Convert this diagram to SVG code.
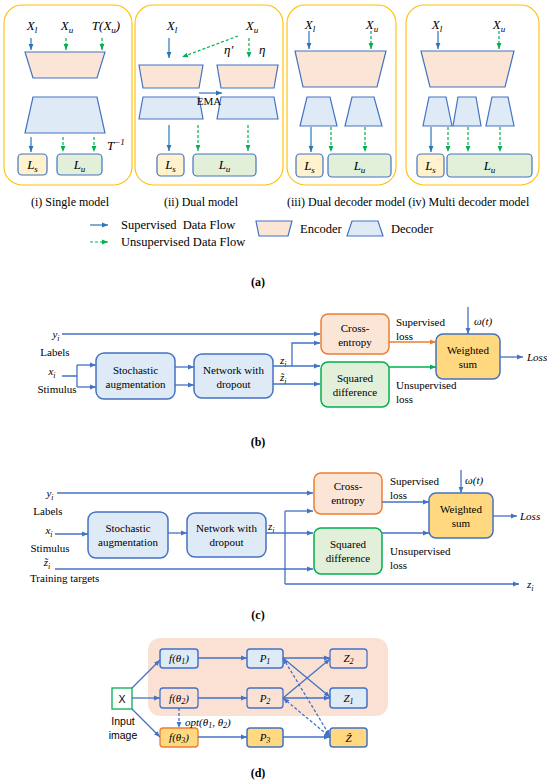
<svg xmlns="http://www.w3.org/2000/svg" width="550" height="784" viewBox="0 0 550 784" font-family="Liberation Serif, serif">
<style>
svg{font-family:"Liberation Serif",serif}
.t{font-family:"Liberation Serif",serif;font-size:11px;fill:#000}
.s{font-family:"Liberation Sans",sans-serif;font-size:10.5px;fill:#000}
.m{font-style:italic}
.mx{font-family:"Liberation Serif",serif;font-style:italic;font-size:13px;fill:#000}
.cap{font-family:"Liberation Serif",serif;font-size:12px;fill:#000}
.lg{font-family:"Liberation Serif",serif;font-size:12.5px;fill:#000}
.b{font-weight:bold}
.panel{fill:none;stroke:#FFC000;stroke-width:1.1}
.enc{fill:#FBE5D6;stroke:#4472C4;stroke-width:1.2}
.dec{fill:#DEEBF7;stroke:#4472C4;stroke-width:1.2}
.ls{fill:#FFF2CC;stroke:#4472C4;stroke-width:1.2}
.lu{fill:#E2F0D9;stroke:#4472C4;stroke-width:1.2}
.sup{stroke:#2E75B6;stroke-width:1.2;fill:none;marker-end:url(#ab)}
.uns{stroke:#00B050;stroke-width:1.2;fill:none;stroke-dasharray:3 2;marker-end:url(#ag)}
.bl{stroke:#4472C4;stroke-width:1.3;fill:none}
.ba{stroke:#4472C4;stroke-width:1.3;fill:none;marker-end:url(#ac)}
.bx{fill:#DEEBF7;stroke:#4472C4;stroke-width:1.5}
.ce{fill:#FBE5D6;stroke:#ED7D31;stroke-width:1.5}
.sd{fill:#E2F0D9;stroke:#00B050;stroke-width:1.5}
.ws{fill:#FFD880;stroke:#4472C4;stroke-width:1.5}
.nb{fill:none;stroke:#4472C4;stroke-width:1.3}
</style>
<defs>
<marker id="ab" viewBox="0 0 10 10" refX="10" refY="5" markerWidth="6" markerHeight="6" markerUnits="userSpaceOnUse" orient="auto"><path d="M0,1 L10,5 L0,9 z" fill="#2E75B6"/></marker>
<marker id="ag" viewBox="0 0 10 10" refX="10" refY="5" markerWidth="6" markerHeight="6" markerUnits="userSpaceOnUse" orient="auto"><path d="M0,1 L10,5 L0,9 z" fill="#00B050"/></marker>
<marker id="ao" viewBox="0 0 10 10" refX="10" refY="5" markerWidth="6" markerHeight="6" markerUnits="userSpaceOnUse" orient="auto"><path d="M0,1 L10,5 L0,9 z" fill="#ED7D31"/></marker>
<marker id="ac" viewBox="0 0 10 10" refX="10" refY="5" markerWidth="6" markerHeight="6" markerUnits="userSpaceOnUse" orient="auto-start-reverse"><path d="M0,1 L10,5 L0,9 z" fill="#4472C4"/></marker>
</defs>

<!-- ===== Panel (a) ===== -->
<g id="panel-i">
<rect class="panel" x="4" y="5" width="128" height="180" rx="18"/>
<text class="mx" x="32" y="30" text-anchor="middle">X<tspan font-size="9" dy="3">l</tspan></text>
<text class="mx" x="67" y="30" text-anchor="middle">X<tspan font-size="9" dy="3">u</tspan></text>
<text class="mx" x="106" y="30" text-anchor="middle">T(X<tspan font-size="9" dy="3">u</tspan><tspan dy="-3">)</tspan></text>
<polygon class="enc" points="25,52 105,52 97,78 33,78"/>
<polygon class="dec" points="33,97 97,97 105,133 25,133"/>
<text class="mx" x="107" y="150">T<tspan font-size="9" dy="-5">−1</tspan></text>
<rect class="ls" x="18" y="154" width="29" height="21" rx="4"/>
<text class="mx" x="32.5" y="169" text-anchor="middle">L<tspan font-size="9" dy="3">s</tspan></text>
<rect class="lu" x="57" y="154" width="45" height="21" rx="4"/>
<text class="mx" x="79.5" y="169" text-anchor="middle">L<tspan font-size="9" dy="3">u</tspan></text>
</g>

<g id="panel-ii">
<rect class="panel" x="135" y="5" width="148" height="180" rx="18"/>
<text class="mx" x="172" y="30" text-anchor="middle">X<tspan font-size="9" dy="3">l</tspan></text>
<text class="mx" x="252" y="30" text-anchor="middle">X<tspan font-size="9" dy="3">u</tspan></text>
<text class="mx" x="224" y="54">η′</text>
<text class="mx" x="259" y="54">η</text>
<polygon class="enc" points="139,65 203,65 199,88 143,88"/>
<polygon class="enc" points="217,65 278,65 274,88 221,88"/>
<polygon class="dec" points="143,97 199,97 203,119 139,119"/>
<polygon class="dec" points="221,97 274,97 278,119 217,119"/>
<text class="t" x="209" y="105" font-size="10" text-anchor="middle">EMA</text>
<rect class="ls" x="157" y="154" width="27" height="22" rx="4"/>
<text class="mx" x="170.5" y="169" text-anchor="middle">L<tspan font-size="9" dy="3">s</tspan></text>
<rect class="lu" x="193" y="154" width="63" height="22" rx="4"/>
<text class="mx" x="224.5" y="169" text-anchor="middle">L<tspan font-size="9" dy="3">u</tspan></text>
</g>

<g id="panel-iii">
<rect class="panel" x="287" y="5" width="109" height="180" rx="18"/>
<text class="mx" x="310" y="29" text-anchor="middle">X<tspan font-size="9" dy="3">l</tspan></text>
<text class="mx" x="372" y="29" text-anchor="middle">X<tspan font-size="9" dy="3">u</tspan></text>
<polygon class="enc" points="295,51 386,51 377,87 303,87"/>
<polygon class="dec" points="307,97 330,97 337,126 300,126"/>
<polygon class="dec" points="352,97 374,97 382,126 345,126"/>
<rect class="ls" x="296" y="154" width="27" height="23" rx="4"/>
<text class="mx" x="309.5" y="170" text-anchor="middle">L<tspan font-size="9" dy="3">s</tspan></text>
<rect class="lu" x="328" y="154" width="63" height="23" rx="4"/>
<text class="mx" x="359.5" y="170" text-anchor="middle">L<tspan font-size="9" dy="3">u</tspan></text>
</g>

<g id="panel-iv">
<rect class="panel" x="406" y="5" width="133" height="180" rx="18"/>
<text class="mx" x="437" y="29" text-anchor="middle">X<tspan font-size="9" dy="3">l</tspan></text>
<text class="mx" x="499" y="29" text-anchor="middle">X<tspan font-size="9" dy="3">u</tspan></text>
<polygon class="enc" points="421,51 514,51 505,87 430,87"/>
<polygon class="dec" points="429,97 446,97 452,126 423,126"/>
<polygon class="dec" points="458,97 476,97 481,126 453,126"/>
<polygon class="dec" points="492,97 508,97 514,126 486,126"/>
<rect class="ls" x="417" y="154" width="27" height="23" rx="4"/>
<text class="mx" x="430.5" y="170" text-anchor="middle">L<tspan font-size="9" dy="3">s</tspan></text>
<rect class="lu" x="447" y="154" width="85" height="23" rx="4"/>
<text class="mx" x="489.5" y="170" text-anchor="middle">L<tspan font-size="9" dy="3">u</tspan></text>
</g>

<g id="a-connectors">
<line class="sup" x1="31" y1="38" x2="31" y2="50"/>
<line class="uns" x1="66" y1="38" x2="66" y2="50"/>
<line class="uns" x1="102" y1="38" x2="102" y2="50"/>
<line class="sup" x1="31" y1="137" x2="31" y2="152"/>
<line class="uns" x1="63" y1="137" x2="63" y2="152"/>
<line class="uns" x1="94" y1="137" x2="94" y2="152"/>
<line class="sup" x1="169" y1="38" x2="169" y2="58"/>
<line class="uns" x1="238" y1="36" x2="182" y2="57"/>
<line class="uns" x1="249" y1="38" x2="249" y2="58"/>
<line class="sup" x1="199" y1="93" x2="222" y2="93"/>
<line class="sup" x1="169" y1="125" x2="169" y2="151"/>
<line class="uns" x1="198" y1="125" x2="198" y2="151"/>
<line class="uns" x1="248" y1="125" x2="248" y2="151"/>
<line class="sup" x1="309" y1="31" x2="309" y2="49"/>
<line class="uns" x1="371" y1="31" x2="371" y2="49"/>
<line class="sup" x1="311" y1="127" x2="311" y2="152"/>
<line class="uns" x1="331" y1="127" x2="331" y2="152"/>
<line class="uns" x1="365" y1="127" x2="365" y2="152"/>
<line class="sup" x1="438" y1="31" x2="438" y2="49"/>
<line class="uns" x1="499" y1="31" x2="499" y2="49"/>
<line class="sup" x1="431" y1="127" x2="431" y2="152"/>
<line class="uns" x1="448" y1="127" x2="448" y2="152"/>
<line class="uns" x1="468" y1="127" x2="468" y2="152"/>
<line class="uns" x1="500" y1="127" x2="500" y2="152"/>
</g>

<g id="a-captions">
<text class="cap" x="70" y="206" text-anchor="middle">(i) Single model</text>
<text class="cap" x="201" y="206" text-anchor="middle">(ii) Dual model</text>
<text class="cap" x="287" y="206">(iii) Dual decoder model (iv) Multi decoder model</text>
</g>

<g id="legend">
<line class="sup" x1="90" y1="225" x2="108" y2="225"/>
<text class="lg" x="121" y="229" xml:space="preserve">Supervised  Data Flow</text>
<line class="uns" x1="90" y1="242" x2="108" y2="242"/>
<text class="lg" x="121" y="246">Unsupervised Data Flow</text>
<polygon class="enc" points="256,221 292,221 288,236 259,236"/>
<text class="lg" x="300" y="233">Encoder</text>
<polygon class="dec" points="352,221 378,221 383,236 347,236"/>
<text class="lg" x="391" y="233">Decoder</text>
<text class="cap b" x="258" y="286" text-anchor="middle">(a)</text>
</g>

<!-- ===== Panel (b) ===== -->
<g id="b-inputs">
<text class="t m" x="56" y="338" text-anchor="middle" font-size="12">y<tspan font-size="8" dy="3">i</tspan></text>
<text class="t" x="55" y="356" text-anchor="middle">Labels</text>
<text class="t m" x="52" y="375" text-anchor="middle" font-size="12">x<tspan font-size="8" dy="3">i</tspan></text>
<text class="t" x="57" y="393" text-anchor="middle">Stimulus</text>
</g>
<g id="b-aug"><rect class="bx" x="96" y="353" width="79" height="46" rx="8"/>
<text class="t" x="135.5" y="374" text-anchor="middle">Stochastic</text><text class="t" x="135.5" y="388" text-anchor="middle">augmentation</text></g>
<g id="b-net"><rect class="bx" x="194" y="354" width="79" height="44" rx="8"/>
<text class="t" x="233.5" y="374" text-anchor="middle">Network with</text><text class="t" x="233.5" y="388" text-anchor="middle">dropout</text></g>
<g id="b-ce"><rect class="ce" x="321" y="314" width="68" height="40" rx="7"/>
<text class="t" x="355" y="332" text-anchor="middle">Cross-</text><text class="t" x="355" y="346" text-anchor="middle">entropy</text></g>
<g id="b-sd"><rect class="sd" x="321" y="362" width="68" height="45" rx="7"/>
<text class="t" x="355" y="382" text-anchor="middle">Squared</text><text class="t" x="355" y="396" text-anchor="middle">difference</text></g>
<g id="b-ws"><rect class="ws" x="436" y="334" width="64" height="45" rx="7"/>
<text class="t" x="468" y="354" text-anchor="middle">Weighted</text><text class="t" x="468" y="368" text-anchor="middle">sum</text></g>
<g id="b-labels">
<text class="t m" x="280" y="364" font-size="12">z<tspan font-size="8" dy="3">i</tspan></text>
<text class="t m" x="280" y="381" font-size="12">z̃<tspan font-size="8" dy="3">i</tspan></text>
<text class="t" x="396" y="326">Supervised</text><text class="t" x="396" y="340">loss</text>
<text class="t" x="396" y="389">Unsupervised</text><text class="t" x="396" y="403">loss</text>
<text class="t m" x="474" y="325" font-size="12">ω(t)</text>
<text class="t m" x="527" y="361" font-size="12">Loss</text>
</g>
<g id="b-connectors">
<path class="ba" d="M62,334 H320"/>
<path class="bl" d="M62,376 H77 M77,365 V387"/>
<path class="ba" d="M77,365 H96"/>
<path class="ba" d="M77,387 H96"/>
<path class="ba" d="M175,367 H194"/>
<path class="ba" d="M175,385 H194"/>
<path class="ba" d="M273,366 H320"/>
<path class="ba" d="M292,366 V343 H320"/>
<path class="ba" d="M273,384 H320"/>
<path d="M389,342 H436" stroke="#ED7D31" stroke-width="1.3" fill="none" marker-end="url(#ao)"/>
<path d="M389,367 H436" stroke="#00B050" stroke-width="1.3" fill="none" marker-end="url(#ag)"/>
<path class="ba" d="M468,307 V334"/>
<path class="ba" d="M500,357 H523"/>
</g>
<text class="cap b" x="258" y="446" text-anchor="middle">(b)</text>

<!-- ===== Panel (c) ===== -->
<g id="c-inputs">
<text class="t m" x="50" y="497" text-anchor="middle" font-size="12">y<tspan font-size="8" dy="3">i</tspan></text>
<text class="t" x="48" y="515" text-anchor="middle">Labels</text>
<text class="t m" x="49" y="534" text-anchor="middle" font-size="12">x<tspan font-size="8" dy="3">i</tspan></text>
<text class="t" x="50" y="552" text-anchor="middle">Stimulus</text>
<text class="t m" x="47" y="566" text-anchor="middle" font-size="12">z̃<tspan font-size="8" dy="3">i</tspan></text>
<text class="t" x="30" y="582">Training targets</text>
</g>
<g id="c-aug"><rect class="bx" x="88" y="512" width="80" height="46" rx="8"/>
<text class="t" x="128" y="532" text-anchor="middle">Stochastic</text><text class="t" x="128" y="546" text-anchor="middle">augmentation</text></g>
<g id="c-net"><rect class="bx" x="187" y="513" width="79" height="44" rx="8"/>
<text class="t" x="226.5" y="532" text-anchor="middle">Network with</text><text class="t" x="226.5" y="546" text-anchor="middle">dropout</text></g>
<g id="c-ce"><rect class="ce" x="314" y="473" width="68" height="41" rx="7"/>
<text class="t" x="348" y="490" text-anchor="middle">Cross-</text><text class="t" x="348" y="504" text-anchor="middle">entropy</text></g>
<g id="c-sd"><rect class="sd" x="314" y="528" width="68" height="46" rx="7"/>
<text class="t" x="348" y="548" text-anchor="middle">Squared</text><text class="t" x="348" y="562" text-anchor="middle">difference</text></g>
<g id="c-ws"><rect class="ws" x="429" y="493" width="64" height="45" rx="7"/>
<text class="t" x="461" y="513" text-anchor="middle">Weighted</text><text class="t" x="461" y="527" text-anchor="middle">sum</text></g>
<g id="c-labels">
<text class="t m" x="268" y="530" font-size="12">z<tspan font-size="8" dy="3">i</tspan></text>
<text class="t" x="390" y="485">Supervised</text><text class="t" x="390" y="499">loss</text>
<text class="t" x="390" y="555">Unsupervised</text><text class="t" x="390" y="569">loss</text>
<text class="t m" x="465" y="484" font-size="12">ω(t)</text>
<text class="t m" x="520" y="520" font-size="12">Loss</text>
<text class="t m" x="527" y="588" font-size="12">z<tspan font-size="8" dy="3">i</tspan></text>
</g>
<g id="c-connectors">
<path class="ba" d="M57,493 H313"/>
<path class="ba" d="M55,534 H88"/>
<path class="ba" d="M55,569 H313"/>
<path class="ba" d="M168,533 H187"/>
<path class="ba" d="M266,533 H313"/>
<path class="bl" d="M285,511 V584"/>
<path class="ba" d="M285,511 H313"/>
<path class="ba" d="M285,584 H519"/>
<path class="ba" d="M382,502 H429"/>
<path class="ba" d="M382,533 H429"/>
<path class="ba" d="M461,470 V493"/>
<path class="ba" d="M493,516 H517"/>
</g>
<text class="cap b" x="258" y="619" text-anchor="middle">(c)</text>

<!-- ===== Panel (d) ===== -->
<rect x="148" y="638" width="240" height="78" rx="12" fill="#F9DCCB" opacity="0.85"/>
<g id="d-x"><rect x="112" y="688" width="20" height="21" fill="#fff" stroke="#00B050" stroke-width="1.3"/>
<text class="s" x="122" y="703" text-anchor="middle" font-size="11">X</text>
<text class="s" x="123" y="725" text-anchor="middle">Input</text><text class="s" x="123" y="739" text-anchor="middle">image</text></g>
<g id="d-f1"><rect class="bx" x="160" y="649" width="38" height="19" rx="3" stroke-width="1.3"/>
<text class="t m" x="179" y="662" text-anchor="middle">f(θ<tspan font-size="8" dy="2">1</tspan><tspan dy="-2">)</tspan></text></g>
<g id="d-f2"><rect class="nb" x="160" y="688" width="38" height="20" rx="3"/>
<text class="t m" x="179" y="702" text-anchor="middle">f(θ<tspan font-size="8" dy="2">2</tspan><tspan dy="-2">)</tspan></text></g>
<g id="d-f3"><rect x="160" y="728" width="38" height="19" rx="3" fill="#FFD880" stroke="#ED7D31" stroke-width="1.3"/>
<text class="t m" x="179" y="741" text-anchor="middle">f(θ<tspan font-size="8" dy="2">3</tspan><tspan dy="-2">)</tspan></text></g>
<g id="d-p1"><rect class="bx" x="247" y="649" width="36" height="19" rx="3" stroke-width="1.3"/>
<text class="t m" x="265" y="662" text-anchor="middle">P<tspan font-size="8" dy="2">1</tspan></text></g>
<g id="d-p2"><rect class="nb" x="247" y="688" width="36" height="20" rx="3"/>
<text class="t m" x="265" y="702" text-anchor="middle">P<tspan font-size="8" dy="2">2</tspan></text></g>
<g id="d-p3"><rect class="ws" x="247" y="728" width="36" height="19" rx="3" stroke-width="1.3"/>
<text class="t m" x="265" y="741" text-anchor="middle">P<tspan font-size="8" dy="2">3</tspan></text></g>
<g id="d-z2"><rect class="nb" x="330" y="649" width="37" height="19" rx="3"/>
<text class="t m" x="348.5" y="662" text-anchor="middle">Z<tspan font-size="8" dy="2">2</tspan></text></g>
<g id="d-z1"><rect class="bx" x="330" y="688" width="37" height="20" rx="3" stroke-width="1.3"/>
<text class="t m" x="348.5" y="702" text-anchor="middle">Z<tspan font-size="8" dy="2">1</tspan></text></g>
<g id="d-zhat"><rect class="ws" x="330" y="728" width="37" height="19" rx="3" stroke-width="1.3"/>
<text class="t m" x="348.5" y="742" text-anchor="middle">Ẑ</text></g>
<text class="t m" x="185" y="726">opt(θ<tspan font-size="8" dy="2">1</tspan><tspan dy="-2">, θ</tspan><tspan font-size="8" dy="2">2</tspan><tspan dy="-2">)</tspan></text>
<g id="d-connectors">
<path class="ba" d="M132,688 L160,660"/>
<path class="ba" d="M132,698 H160"/>
<path class="ba" d="M132,709 L160,737"/>
<path class="ba" d="M198,658 H247"/>
<path class="ba" d="M198,698 H247"/>
<path class="ba" d="M198,737 H247"/>
<path class="ba" d="M179,708 V728" stroke-dasharray="3 2"/>
<path class="ba" d="M283,658 H330"/>
<path class="ba" d="M283,658 L330,697"/>
<path class="ba" d="M283,698 L330,659"/>
<path class="ba" d="M283,698 H330"/>
<path class="ba" d="M283,658 L330,736" stroke-dasharray="3 2" stroke-width="1.1" marker-start="url(#ac)"/>
<path class="ba" d="M283,698 L330,737" stroke-dasharray="3 2" stroke-width="1.1" marker-start="url(#ac)"/>
<path class="ba" d="M283,737 H330"/>
</g>
<text class="cap b" x="258" y="777" text-anchor="middle">(d)</text>
</svg>
